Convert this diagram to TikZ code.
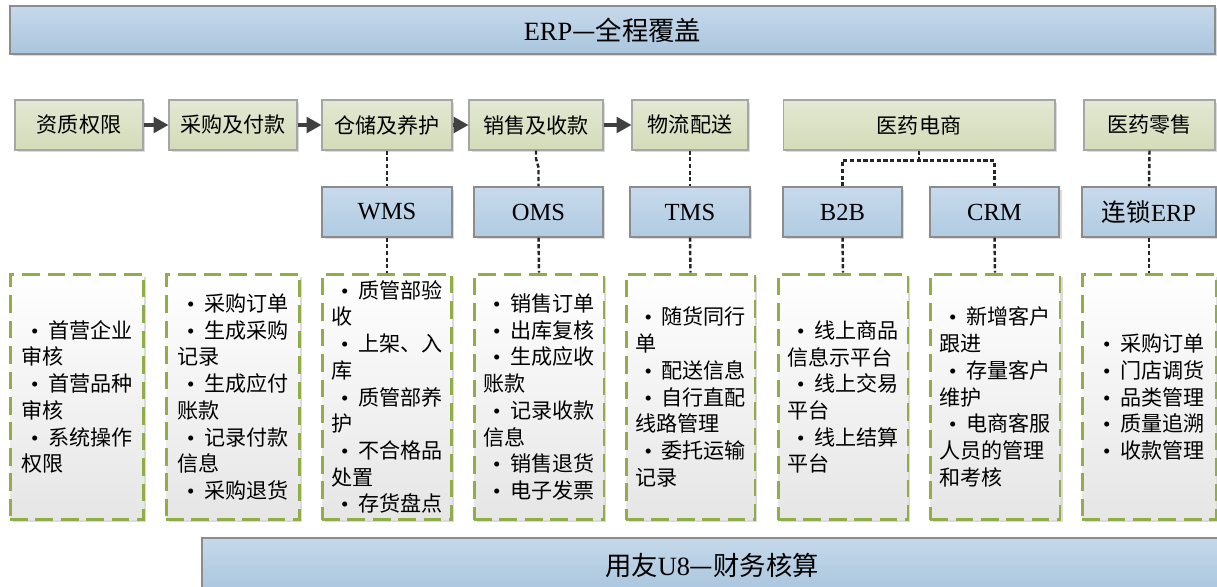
\documentclass[tikz,border=0pt]{standalone}
\usepackage{fontspec}
\setmainfont{Liberation Serif}
\newfontfamily\cjk{Noto Sans CJK SC}
\usetikzlibrary{arrows.meta,shadows}

\definecolor{barTop}{HTML}{C6D9EB}
\definecolor{barBot}{HTML}{A9C5DD}
\definecolor{procTop}{HTML}{E3E8D3}
\definecolor{procBot}{HTML}{D3DCB8}
\definecolor{sysTop}{HTML}{C8DAEC}
\definecolor{sysBot}{HTML}{B0CBE2}
\definecolor{itemGreen}{HTML}{8FAE4A}

\newcommand{\itm}{\hspace{0.45em}{\rmfamily\textbullet}\hspace{0.45em}}

\tikzset{
  soft/.style={drop shadow={shadow xshift=0.05cm, shadow yshift=-0.05cm, fill=black!40, opacity=0.35}},
  banner/.style={draw=black!45, line width=0.8pt, top color=barTop, bottom color=barBot, soft,
    minimum height=0.96cm, font=\fontsize{15}{18}\selectfont},
  proc/.style={draw=black!35, line width=0.6pt, top color=procTop, bottom color=procBot, soft,
    minimum height=1cm, font=\cjk\fontsize{12}{14}\selectfont},
  sys/.style={draw=black!45, line width=0.6pt, top color=sysTop, bottom color=sysBot, soft,
    minimum height=1cm, font=\fontsize{14}{17}\selectfont},
  itembox/.style={draw=itemGreen, line width=1.7pt, dash pattern=on 10pt off 4.5pt,
    top color=white, bottom color=black!10, soft, minimum width=2.6cm, minimum height=4.92cm,
    align=left, inner sep=2pt, font=\cjk\fontsize{12}{15.2}\selectfont},
  link/.style={draw=black!85, line width=1.4pt, dash pattern=on 2.4pt off 1.4pt},
  flow/.style={->, draw=black!75, line width=1.8pt}
}

\begin{document}
\begin{tikzpicture}[x=0.02cm, y=-0.02cm, >={Triangle[length=8.5pt,width=9pt]}]

\fill[white] (0,0) rectangle (1217,587);
\useasboundingbox (0,0) rectangle (1217,587);

% top and bottom bars
\node[banner, minimum width=24.1cm] (erp) at (612.5,30) {ERP{\cjk —全程覆盖}};
\node[banner, minimum width=20.4cm, minimum height=1.08cm] (uf) at (712,565) {{\cjk 用友}U8{\cjk —财务核算}};

% business flow
\node[proc, minimum width=2.56cm] (zz) at (79,125) {资质权限};
\node[proc, minimum width=2.56cm] (cg) at (233,125) {采购及付款};
\node[proc, minimum width=2.6cm] (cc) at (387,125) {仓储及养护};
\node[proc, minimum width=2.68cm] (xs) at (536,125) {销售及收款};
\node[proc, minimum width=2.32cm] (wl) at (690,125) {物流配送};
\node[proc, minimum width=5.44cm] (ds) at (919,125) {医药电商};
\node[proc, minimum width=2.62cm] (ls) at (1149.5,125) {医药零售};

\draw[flow] (zz) -- (cg);
\draw[flow] (cg) -- (cc);
\draw[flow] (cc) -- (xs);
\draw[flow] (xs) -- (wl);

% systems
\node[sys, minimum width=2.6cm] (wms) at (387,212) {WMS};
\node[sys, minimum width=2.58cm] (oms) at (538.5,212) {OMS};
\node[sys, minimum width=2.4cm] (tms) at (690,212) {TMS};
\node[sys, minimum width=2.38cm] (b2b) at (842.5,212) {B2B};
\node[sys, minimum width=2.58cm] (crm) at (994.5,212) {CRM};
\node[sys, minimum width=2.68cm] (lerp) at (1149,212) {{\cjk 连锁}ERP};

% function lists
\node[itembox, minimum width=2.68cm] (d1) at (77,397) {\itm 首营企业\\审核\\\itm 首营品种\\审核\\\itm 系统操作\\权限};
\node[itembox, minimum width=2.68cm] (d2) at (233,397) {\itm 采购订单\\\itm 生成采购\\记录\\\itm 生成应付\\账款\\\itm 记录付款\\信息\\\itm 采购退货};
\node[itembox] (d3) at (387,397) {\itm 质管部验\\收\\\itm 上架、入\\库\\\itm 质管部养\\护\\\itm 不合格品\\处置\\\itm 存货盘点};
\node[itembox] (d4) at (539,397) {\itm 销售订单\\\itm 出库复核\\\itm 生成应收\\账款\\\itm 记录收款\\信息\\\itm 销售退货\\\itm 电子发票};
\node[itembox, minimum width=2.58cm] (d5) at (690.5,397) {\itm 随货同行\\单\\\itm 配送信息\\\itm 自行直配\\线路管理\\\itm 委托运输\\记录};
\node[itembox] (d6) at (843,397) {\itm 线上商品\\信息示平台\\\itm 线上交易\\平台\\\itm 线上结算\\平台};
\node[itembox] (d7) at (995,397) {\itm 新增客户\\跟进\\\itm 存量客户\\维护\\\itm 电商客服\\人员的管理\\和考核};
\node[itembox, minimum width=2.68cm] (d8) at (1149,397) {\itm 采购订单\\\itm 门店调货\\\itm 品类管理\\\itm 质量追溯\\\itm 收款管理};

% dashed links
\draw[link] (cc.south) -- (wms.north);
\draw[link] (xs.south) -- ++(0,8) -- ([yshift=0.38cm]oms.north) -- (oms.north);
\draw[link] (wl.south) -- (tms.north);
\draw[link] (ds.south) -- ++(0,10) coordinate (dsplit);
\draw[link] (b2b.north) |- (dsplit) -| (crm.north);
\draw[link] (ls.south) -- (lerp.north);

\draw[link] (wms.south) -- (d3.north);
\draw[link] (oms.south) -- (d4.north);
\draw[link] (tms.south) -- (d5.north);
\draw[link] (b2b.south) -- (d6.north);
\draw[link] (crm.south) -- (d7.north);
\draw[link] (lerp.south) -- (d8.north);

\end{tikzpicture}
\end{document}
